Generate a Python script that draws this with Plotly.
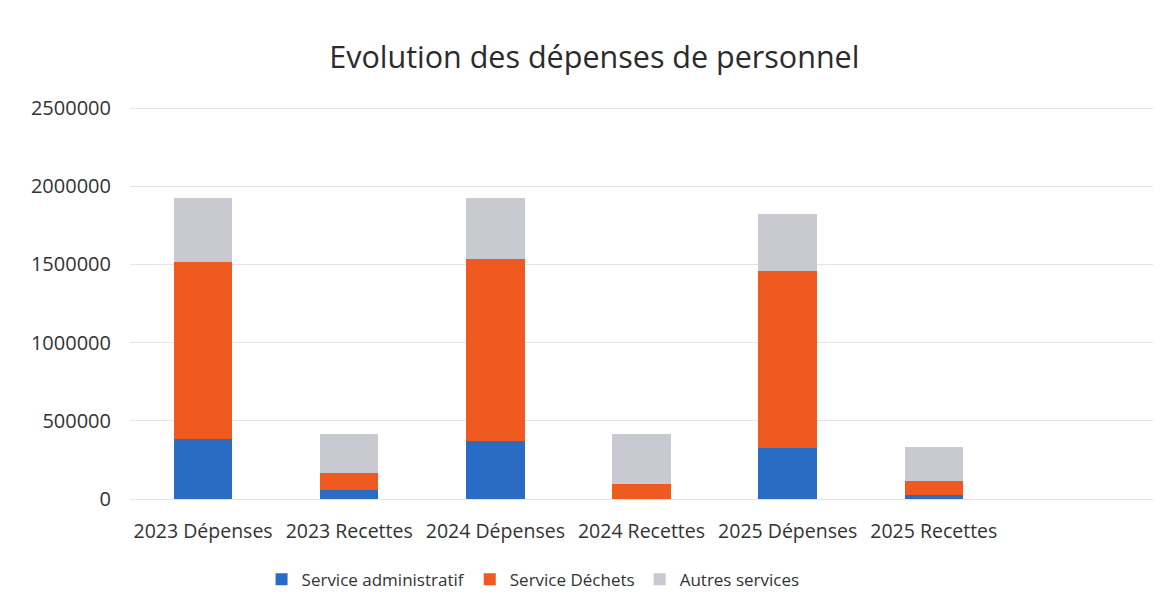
import plotly.graph_objects as go

categories = ["2023 Dépenses", "2023 Recettes", "2024 Dépenses",
              "2024 Recettes", "2025 Dépenses", "2025 Recettes"]

service_admin = [383000, 58000, 372000, 0, 329000, 26000]
service_dechets = [1132000, 111000, 1164000, 96000, 1132000, 89000]
autres_services = [408000, 246000, 387000, 319000, 361000, 220000]

colors = ["#2a6cc4", "#ee5a1f", "#c9c9d1"]
names = ["Service administratif", "Service Déchets", "Autres services"]
series = [service_admin, service_dechets, autres_services]

fig = go.Figure()

for name, vals, col in zip(names, series, colors):
    fig.add_trace(go.Bar(
        x=categories,
        y=vals,
        name=name,
        marker=dict(color=col, line=dict(width=0))
    ))

fig.update_layout(
    barmode="stack",
    bargap=0.6,
    width=1168,
    height=613,
    paper_bgcolor="white",
    plot_bgcolor="white",
    font=dict(family="Open Sans", size=16, color="#404040"),
    title=dict(
        text="Evolution des dépenses de personnel",
        x=0.502,
        xanchor="center",
        y=0.92,
        yanchor="middle",
        font=dict(size=30.5, color="#2b2b2b")
    ),
    margin=dict(l=122, r=23, t=97, b=122),
    legend=dict(
        orientation="h",
        x=0.394,
        xanchor="center",
        y=-0.205,
        yanchor="middle",
        font=dict(size=17, color="#333333"),
        itemwidth=30,
        traceorder="normal"
    ),
    showlegend=True
)

fig.update_xaxes(
    type="category",
    range=[-0.5, 6.5],
    showgrid=False,
    showline=False,
    ticks="",
    ticklabelstandoff=18,
    tickfont=dict(size=19.5, color="#333333")
)

fig.update_yaxes(
    range=[0, 2520000],
    tickvals=[0, 500000, 1000000, 1500000, 2000000, 2500000],
    showgrid=True,
    gridcolor="#e4e4e4",
    gridwidth=1,
    zeroline=True,
    zerolinecolor="#e4e4e4",
    zerolinewidth=1,
    tickformat="d",
    ticklabelstandoff=18,
    tickfont=dict(size=20, color="#333333")
)

fig.write_html("out.html")
